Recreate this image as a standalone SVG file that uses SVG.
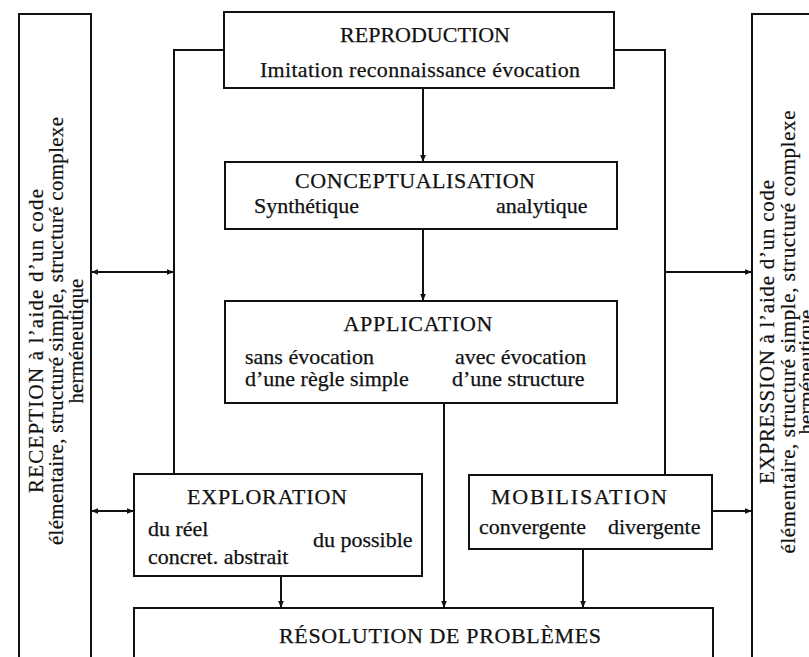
<svg xmlns="http://www.w3.org/2000/svg" width="809" height="657" viewBox="0 0 809 657">
<style>
.b{fill:none;stroke:#111;stroke-width:2}
.c{fill:none;stroke:#111;stroke-width:2}
.t{font-family:"Liberation Serif","Times New Roman",serif;font-size:22px;fill:#111;stroke:#111;stroke-width:0.25}
.v{font-family:"Liberation Serif","Times New Roman",serif;font-size:21px;fill:#111;stroke:#111;stroke-width:0.2;text-anchor:middle}
.m{text-anchor:middle}
</style>
<defs>
<marker id="ah" viewBox="0 0 10 10" refX="10" refY="5" markerWidth="9" markerHeight="7" markerUnits="userSpaceOnUse" orient="auto-start-reverse">
<path d="M0,1 L10,5 L0,9 z" fill="#111"/>
</marker>
</defs>
<rect width="809" height="657" fill="#fff"/>
<g id="reception">
<path class="b" d="M19,660 V14 H91 V660"/>
<text class="v" transform="translate(43,341) rotate(-90)" textLength="304" lengthAdjust="spacing">RECEPTION à l’aide d’un code</text>
<text class="v" transform="translate(63,331) rotate(-90)" textLength="428" lengthAdjust="spacing">élémentaire, structuré simple, structuré complexe</text>
<text class="v" transform="translate(83,341) rotate(-90)">herméneutique</text>
</g>
<g id="expression">
<path class="b" d="M752,660 V14 H815"/>
<text class="v" transform="translate(774,332) rotate(-90)" textLength="304" lengthAdjust="spacing">EXPRESSION à l’aide d’un code</text>
<text class="v" transform="translate(795,332) rotate(-90)" textLength="443" lengthAdjust="spacing">élémentaire, structuré simple, structuré complexe</text>
<text class="v" transform="translate(813,372) rotate(-90)">herméneutique</text>
</g>
<g id="reproduction">
<rect class="b" x="224" y="12" width="390" height="76"/>
<text class="t m" x="425" y="42">REPRODUCTION</text>
<text class="t m" x="420" y="77" textLength="320" lengthAdjust="spacing">Imitation reconnaissance évocation</text>
</g>
<g id="conceptualisation">
<rect class="b" x="225" y="162" width="392" height="67"/>
<text class="t m" x="415" y="188" textLength="240" lengthAdjust="spacing">CONCEPTUALISATION</text>
<text class="t" x="254" y="213">Synthétique</text>
<text class="t" x="496" y="213">analytique</text>
</g>
<g id="application">
<rect class="b" x="225" y="301" width="392" height="102"/>
<text class="t m" x="418" y="331" textLength="149" lengthAdjust="spacing">APPLICATION</text>
<text class="t" x="245" y="364">sans évocation</text>
<text class="t" x="245" y="386">d’une règle simple</text>
<text class="t" x="455" y="364">avec évocation</text>
<text class="t" x="452" y="386">d’une structure</text>
</g>
<g id="exploration">
<rect class="b" x="134" y="474" width="288" height="102"/>
<text class="t m" x="267" y="504" textLength="160" lengthAdjust="spacing">EXPLORATION</text>
<text class="t" x="148" y="536">du réel</text>
<text class="t" x="148" y="564">concret. abstrait</text>
<text class="t" x="313" y="547">du possible</text>
</g>
<g id="mobilisation">
<rect class="b" x="469" y="475" width="243" height="74"/>
<text class="t m" x="579" y="504" textLength="176" lengthAdjust="spacing">MOBILISATION</text>
<text class="t" x="479" y="534">convergente</text>
<text class="t" x="608" y="534">divergente</text>
</g>
<g id="resolution">
<path class="b" d="M134,660 V608 H713 V660"/>
<text class="t m" x="440" y="643" textLength="322" lengthAdjust="spacing">RÉSOLUTION DE PROBLÈMES</text>
</g>
<g id="connectors">
<path class="c" d="M224,50 H174 V474"/>
<path class="c" d="M614,50 H665 V475"/>
<path class="c" d="M423,88 V162" marker-end="url(#ah)"/>
<path class="c" d="M423,229 V301" marker-end="url(#ah)"/>
<path class="c" d="M444,403 V608" marker-end="url(#ah)"/>
<path class="c" d="M91,272 H174" marker-start="url(#ah)" marker-end="url(#ah)"/>
<path class="c" d="M665,272 H752" marker-end="url(#ah)"/>
<path class="c" d="M91,511 H134" marker-start="url(#ah)" marker-end="url(#ah)"/>
<path class="c" d="M712,511 H752" marker-end="url(#ah)"/>
<path class="c" d="M281,576 V608" marker-end="url(#ah)"/>
<path class="c" d="M583,549 V608" marker-end="url(#ah)"/>
</g>
</svg>
